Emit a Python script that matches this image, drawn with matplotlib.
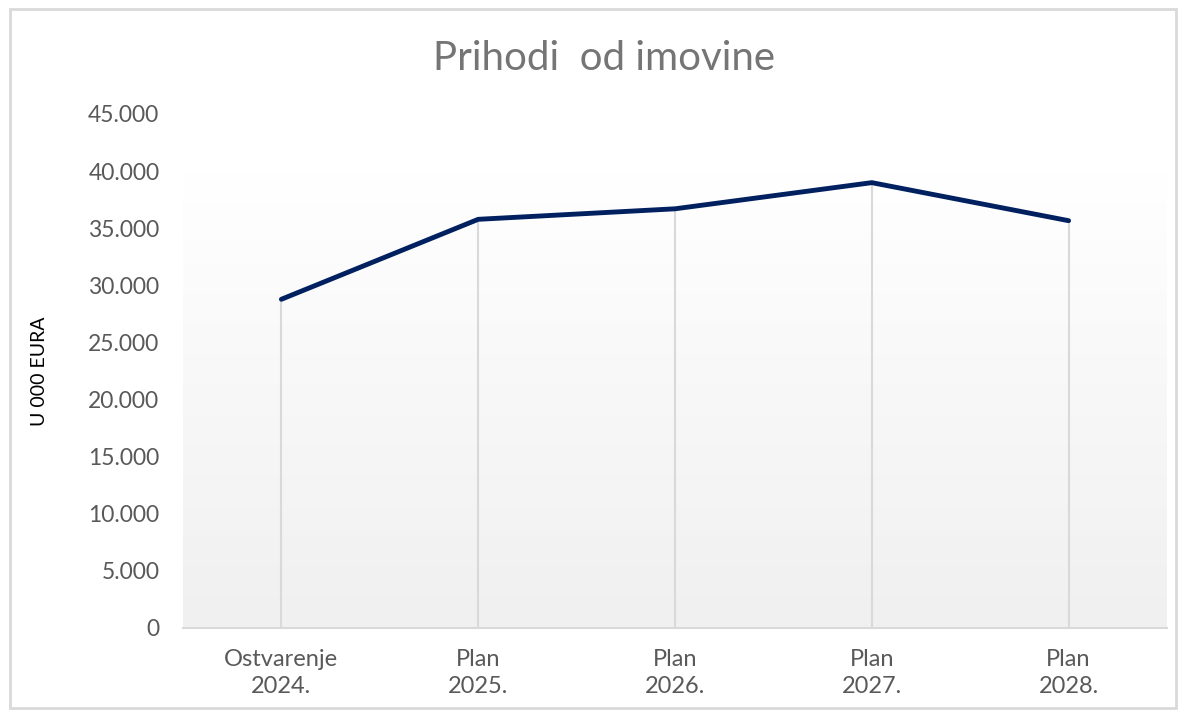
import numpy as np
import matplotlib
matplotlib.use("Agg")
import matplotlib.pyplot as plt
from matplotlib.patches import Rectangle

categories = ["Ostvarenje\n2024.", "Plan\n2025.", "Plan\n2026.", "Plan\n2027.", "Plan\n2028."]
values = [28780, 35780, 36700, 38990, 35660]
y_ticks = [0, 5000, 10000, 15000, 20000, 25000, 30000, 35000, 40000, 45000]
y_tick_labels = ["0", "5.000", "10.000", "15.000", "20.000", "25.000",
                 "30.000", "35.000", "40.000", "45.000"]

plt.rcParams["font.family"] = ["Lato", "DejaVu Sans"]

fig = plt.figure(figsize=(11.84, 7.13), dpi=100)
# outer chart border
fig.patches.append(Rectangle((10 / 1184, 5 / 713), 1166 / 1184, 699 / 713,
                             transform=fig.transFigure, fill=False,
                             edgecolor="#d9d9d9", linewidth=2))

ax = fig.add_axes([183 / 1184, 1 - 628 / 713, 984 / 1184, 514 / 713])
x = np.arange(len(categories))

# gradient background, white at top to light gray at bottom
grad = np.linspace(0, 1, 256).reshape(-1, 1)
cmap = matplotlib.colors.LinearSegmentedColormap.from_list("bg", ["#f0f0f0", "#ffffff"])
ax.imshow(grad, aspect="auto", cmap=cmap, origin="lower",
          extent=(-0.5, 4.5, 0, 40000), zorder=0)

ax.vlines(x, 0, values, color="#d9d9d9", linewidth=1.5, zorder=1)
ax.plot(x, values, color="#002060", linewidth=3.5, solid_capstyle="round",
        solid_joinstyle="round", zorder=3)

ax.set_xlim(-0.5, 4.5)
ax.set_ylim(0, 45000)
ax.set_xticks(x)
ax.set_xticklabels(categories, fontsize=17, color="#595959", linespacing=1.35)
ax.set_yticks(y_ticks)
ax.set_yticklabels(y_tick_labels, fontsize=16.5, color="#595959")
ax.tick_params(axis="both", length=0)
ax.tick_params(axis="x", pad=15)
ax.tick_params(axis="y", pad=17)

for side in ["top", "right", "left"]:
    ax.spines[side].set_visible(False)
ax.spines["bottom"].set_color("#d9d9d9")
ax.spines["bottom"].set_linewidth(1.5)

ax.set_ylabel("U 000 EURA", fontsize=14, color="black", labelpad=29)
fig.text(604 / 1184, 1 - 58 / 713, "Prihodi  od imovine", ha="center", va="center",
         fontsize=29, color="#757575")

plt.savefig("out.png", dpi=100)
plt.close()
